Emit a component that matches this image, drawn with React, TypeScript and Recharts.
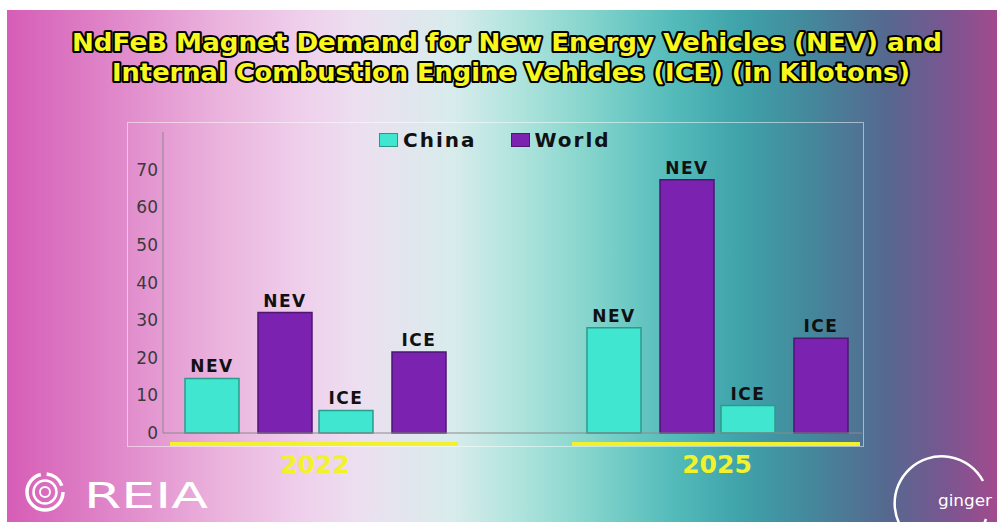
import React from 'react';
import { BarChart, Bar, XAxis, YAxis, LabelList, Legend } from 'recharts';

const categories = ['NEV 2022', 'ICE 2022', 'gap', 'NEV 2025', 'ICE 2025'];
const typeLabels = ['NEV', 'ICE', '', 'NEV', 'ICE'];
const years = ['2022', '2022', '', '2025', '2025'];
const chinaValues: (number | null)[] = [14.5, 6, null, 28, 7.3];
const worldValues: (number | null)[] = [32, 21.5, null, 67.3, 25.2];
const yTicks = [0, 10, 20, 30, 40, 50, 60, 70];

const data = categories.map((c, i) => ({
  cat: c,
  China: chinaValues[i],
  World: worldValues[i],
  type: typeLabels[i],
  year: years[i],
}));

const CHINA = '#40e6d0';
const WORLD = '#7b22b0';
const YELLOW = '#f2f22c';

const YearTick = (props: any) => {
  const { x, y, index } = props;
  const yr = years[index];
  if (!yr || (index > 0 && years[index - 1] === yr)) return <g />;
  return (
    <g>
      <line x1={x - 78} x2={x + 210} y1={y + 11} y2={y + 11} stroke={YELLOW} strokeWidth={4} />
      <text
        x={x + 67}
        y={y + 40}
        textAnchor="middle"
        fill={YELLOW}
        fontSize={25}
        fontWeight="bold"
        fontFamily="DejaVu Sans"
      >
        {yr}
      </text>
    </g>
  );
};

const LegendContent = (props: any) => {
  const { payload } = props;
  return (
    <div style={{ display: 'flex', alignItems: 'center', fontFamily: 'DejaVu Sans', fontWeight: 'bold', fontSize: 20, color: '#111', letterSpacing: 2 }}>
      {(payload || []).map((p: any, i: number) => (
        <div key={i} style={{ display: 'flex', alignItems: 'center', marginRight: 34 }}>
          <span style={{ display: 'inline-block', width: 17, height: 12, background: p.color, border: '1px solid rgba(0,0,0,0.35)', marginRight: 5 }} />
          <span>{p.value}</span>
        </div>
      ))}
    </div>
  );
};

export default function App() {
  return (
    <div style={{ position: 'absolute', left: 0, top: 0, width: 997, height: 523, background: '#fff', overflow: 'hidden' }}>
      <div
        style={{
          position: 'absolute',
          left: 7,
          top: 10,
          width: 990,
          height: 512,
          background:
            'linear-gradient(to right, #d65db6 0%, #df84c8 10%, #ebb5de 22%, #efd0ec 30%, #ece0f0 36%, #d8ecec 45%, #ade3dc 52%, #83d4cc 59%, #55bcbb 67%, #3fa3aa 74%, #44889c 81%, #56688f 89%, #7a5690 95%, #a24a8e 100%)',
        }}
      />
      <div style={{ position: 'absolute', left: 127, top: 122, width: 735, height: 323, border: '1px solid rgba(255,255,255,0.5)' }} />
      <div style={{ position: 'absolute', left: 0, top: 0 }}>
        <BarChart
          width={997}
          height={523}
          data={data}
          margin={{ top: 108, right: 135, bottom: 30, left: 123 }}
          barGap={19}
          barSize={54}
        >
          <XAxis
            dataKey="cat"
            interval={0}
            tickLine={false}
            tickSize={0}
            tickMargin={0}
            axisLine={{ stroke: '#8a8a8a' }}
            padding={{ left: 18, right: 11 }}
            tick={<YearTick />}
            height={60}
          />
          <YAxis
            domain={[0, 80]}
            ticks={yTicks}
            interval={0}
            width={40}
            tickLine={false}
            tickSize={0}
            tickMargin={5}
            axisLine={{ stroke: '#8a8a8a' }}
            tick={{ fill: '#3a3a3a', fontSize: 17, fontFamily: 'DejaVu Sans' }}
          />
          <Legend
            verticalAlign="top"
            content={<LegendContent />}
            wrapperStyle={{ position: 'absolute', left: 379, top: 128, width: 300 }}
          />
          <Bar dataKey="China" name="China" fill={CHINA} stroke="#2a9c8c" strokeWidth={1.5} isAnimationActive={false}>
            <LabelList dataKey="type" position="top" offset={6} fill="#111" fontSize={17} fontWeight="bold" fontFamily="DejaVu Sans" letterSpacing={1.5} />
          </Bar>
          <Bar dataKey="World" name="World" fill={WORLD} stroke="#4e1673" strokeWidth={1.5} isAnimationActive={false}>
            <LabelList dataKey="type" position="top" offset={6} fill="#111" fontSize={17} fontWeight="bold" fontFamily="DejaVu Sans" letterSpacing={1.5} />
          </Bar>
        </BarChart>
      </div>
      <svg width={997} height={523} style={{ position: 'absolute', left: 0, top: 0, pointerEvents: 'none' }}>
        <g fontFamily="DejaVu Sans" fontWeight="bold" fontSize={24} fill="#f8f81c" stroke="#000" strokeWidth={4} strokeLinejoin="round" style={{ paintOrder: 'stroke' }}>
          <text x={72} y={51} textLength={870} lengthAdjust="spacingAndGlyphs">
            NdFeB Magnet Demand for New Energy Vehicles (NEV) and
          </text>
          <text x={112} y={81} textLength={798} lengthAdjust="spacingAndGlyphs">
            Internal Combustion Engine Vehicles (ICE) (in Kilotons)
          </text>
        </g>
        <g stroke="#fff" fill="none">
          <circle cx={45} cy={492} r={18} strokeWidth={3.5} strokeDasharray="80 6 20 7" />
          <circle cx={45} cy={492} r={11.5} strokeWidth={2.5} />
          <circle cx={45} cy={492} r={5} strokeWidth={2} />
        </g>
        <text x={84} y={508} fill="#fff" fontSize={36} fontFamily="DejaVu Sans" textLength={124} lengthAdjust="spacingAndGlyphs">
          REIA
        </text>
        <path d="M 983 481 A 47 47 0 1 0 986 519" stroke="#fff" strokeWidth={2.5} fill="none" />
        <text x={938} y={506} fill="#fff" fontSize={16} fontFamily="DejaVu Sans" textLength={54} lengthAdjust="spacingAndGlyphs">
          ginger
        </text>
      </svg>
    </div>
  );
}
